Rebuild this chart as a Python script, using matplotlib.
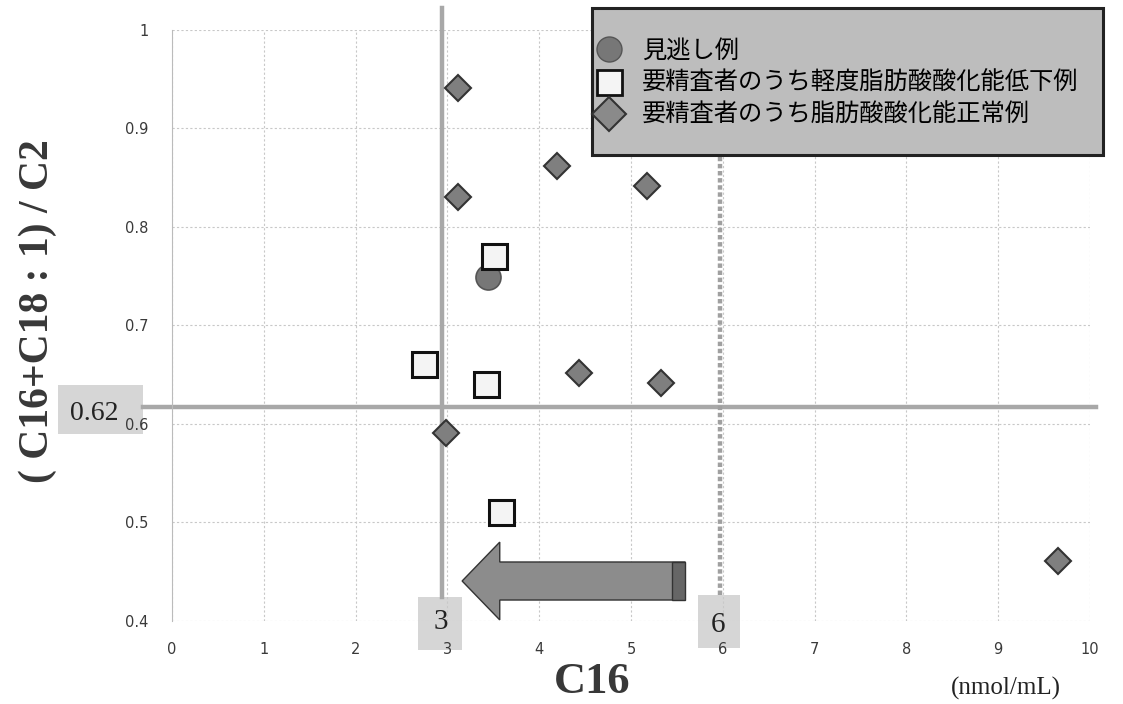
import matplotlib
matplotlib.use('Agg')
import matplotlib.pyplot as plt
from matplotlib.lines import Line2D
from matplotlib.patches import FancyArrow, Rectangle

plt.rcParams['font.family'] = ['Noto Sans CJK JP', 'DejaVu Sans']

# data
missed_x = [3.44]
missed_y = [0.749]

mild_x = [3.51, 2.75, 3.42, 3.58]
mild_y = [0.771, 0.661, 0.641, 0.511]

normal_x = [3.12, 3.12, 4.19, 5.17, 4.43, 5.33, 2.98, 9.65]
normal_y = [0.941, 0.830, 0.862, 0.842, 0.652, 0.642, 0.591, 0.461]

legend_labels = ['見逃し例', '要精査者のうち軽度脂肪酸酸化能低下例', '要精査者のうち脂肪酸酸化能正常例']

x_ticks = list(range(0, 11))
y_ticks = [0.4, 0.5, 0.6, 0.7, 0.8, 0.9, 1.0]
y_tick_labels = ['0.4', '0.5', '0.6', '0.7', '0.8', '0.9', '1']

cut_c16 = 2.94          # drawn position of the "3" cut-off
cut_ratio = 0.617       # drawn position of the "0.62" cut-off
cut_c16_hi = 5.97       # drawn position of the "6" line

# arrow (tail -> head), in data units
arrow_tail = 5.59
arrow_head = 3.16
arrow_y = 0.4406

fig = plt.figure(figsize=(11.23, 7.04), dpi=100)
ax = fig.add_axes([0.1532, 0.1179, 0.8174, 0.8395])

ax.set_xlim(0, 10)
ax.set_ylim(0.4, 1.0)
ax.set_xticks(x_ticks)
ax.set_yticks(y_ticks)
ax.set_yticklabels(y_tick_labels)
ax.tick_params(length=0, labelsize=10.5, labelcolor='#3a3a3a', pad=17)
ax.tick_params(axis='x', pad=15)
for lbl in ax.get_xticklabels() + ax.get_yticklabels():
    lbl.set_family('DejaVu Sans')
for side in ['top', 'right', 'bottom']:
    ax.spines[side].set_visible(False)
ax.spines['left'].set_color('#bbbbbb')
ax.grid(True, color='#c8c8c8', linestyle=(0, (2, 2)), linewidth=0.8)
ax.set_axisbelow(True)

# cut-off lines
ax.plot([cut_c16, cut_c16], [0.4244, 1.0223], color='#a8a8a8', lw=3.2, clip_on=False, zorder=2)
ax.plot([-0.316, 10.07], [cut_ratio, cut_ratio], color='#a8a8a8', lw=3.2, clip_on=False, zorder=2)
ax.plot([cut_c16_hi, cut_c16_hi], [0.4264, 1.0], color='#a0a0a0', lw=3.2, linestyle=(0, (1, 0.6)), zorder=2)

# arrow
body_w = 0.0386
head_w = 0.079
head_len = 0.41
ax.add_patch(FancyArrow(arrow_tail, arrow_y, arrow_head - arrow_tail, 0, width=body_w,
                        head_width=head_w, head_length=head_len, length_includes_head=True,
                        facecolor='#8c8c8c', edgecolor='#333333', lw=1.0, zorder=3))
ax.add_patch(Rectangle((arrow_tail - 0.14, arrow_y - body_w / 2), 0.14, body_w,
                       facecolor='#666666', edgecolor='#333333', lw=1.0, zorder=3))

# points
ax.plot(normal_x, normal_y, 'D', ms=13.5, mfc='#7f7f7f', mec='#333333', mew=1.5, ls='none', zorder=4)
ax.plot(missed_x, missed_y, 'o', ms=18, mfc='#777777', mec='#555555', mew=1.2, ls='none', zorder=4)
ax.plot(mild_x, mild_y, 's', ms=18, mfc='#f4f4f4', mec='#111111', mew=2.2, ls='none', zorder=5)

# cut-off value labels: grey boxes behind, big serif numbers on top
for (bx0, bx1, by0, by1) in [(-1.242, -0.316, 0.5898, 0.6396),
                             (2.68, 3.16, 0.3706, 0.4244),
                             (5.73, 6.19, 0.3726, 0.4264)]:
    ax.add_patch(Rectangle((bx0, by0), bx1 - bx0, by1 - by0, facecolor='#d6d6d6',
                           edgecolor='none', clip_on=False, zorder=0.2))
ax.text(-0.85, 0.611, '0.62', fontsize=20, family='Liberation Serif', color='#222',
        ha='center', va='center', clip_on=False, zorder=6)
ax.text(2.93, 0.399, '3', fontsize=21, family='Liberation Serif', color='#222',
        ha='center', va='center', clip_on=False, zorder=6)
ax.text(5.95, 0.396, '6', fontsize=21, family='Liberation Serif', color='#222',
        ha='center', va='center', clip_on=False, zorder=6)

# axis titles
fig.text(0.034, 0.558, '( C16+C18 : 1) / C2', rotation=90, fontsize=30, fontweight='bold',
         family='Liberation Serif', color='#383838', ha='center', va='center')
fig.text(0.527, 0.031, 'C16', fontsize=32, fontweight='bold', family='Liberation Serif',
         color='#383838', ha='center', va='center')
fig.text(0.896, 0.022, '(nmol/mL)', fontsize=18, family='Liberation Serif', color='#222',
         ha='center', va='center')

# legend: frame drawn separately so its padding can match
fig.patches.append(Rectangle((592 / 1123, 1 - 155 / 704), 511 / 1123, 147 / 704,
                             transform=fig.transFigure, facecolor='#bdbdbd',
                             edgecolor='#222222', lw=2.2, zorder=9))
handles = [
    Line2D([], [], marker='o', ms=18, mfc='#777777', mec='#555555', ls='none'),
    Line2D([], [], marker='s', ms=18, mfc='#f4f4f4', mec='#111111', mew=2, ls='none'),
    Line2D([], [], marker='D', ms=17, mfc='#8a8a8a', mec='#333333', mew=1.5, ls='none'),
]
leg = fig.legend(handles, legend_labels, loc='upper left', bbox_to_anchor=(597 / 1123, 1 - 38 / 704),
                 fontsize=17.5, frameon=False, handlelength=1.0, handletextpad=0.85,
                 labelspacing=0.25, borderpad=0, borderaxespad=0)
leg.set_zorder(10)

fig.savefig('out.png', dpi=100)
